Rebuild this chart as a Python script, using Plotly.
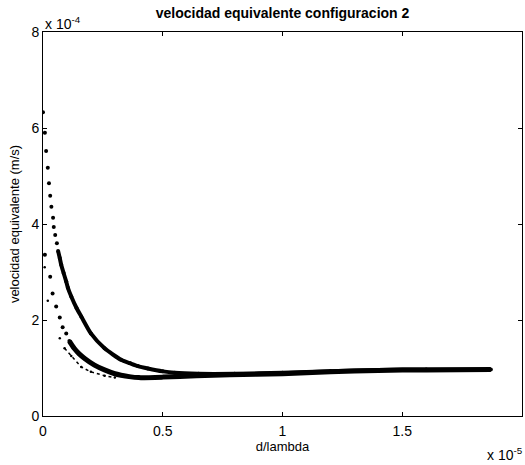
import plotly.graph_objects as go

# Values in units of 1e-5 (d/lambda) and 1e-4 m/s (velocidad)
upper_x = [0.000, 0.008, 0.013, 0.020, 0.025, 0.030, 0.035, 0.042, 0.045, 0.051,
           0.058, 0.063, 0.070, 0.076, 0.086, 0.097, 0.104, 0.118, 0.140, 0.160,
           0.200, 0.257, 0.326, 0.363, 0.396, 0.438, 0.50, 0.55, 0.65, 0.80,
           1.00, 1.20, 1.40, 1.60, 1.86]
upper_y = [6.33, 5.90, 5.52, 5.17, 4.85, 4.59, 4.36, 4.13, 3.94, 3.77,
           3.60, 3.44, 3.29, 3.15, 2.98, 2.80, 2.67, 2.49, 2.25, 2.07,
           1.72, 1.41, 1.17, 1.10, 1.04, 0.99, 0.93, 0.90, 0.88, 0.88,
           0.90, 0.93, 0.96, 0.97, 0.97]

lower_x = [0.008, 0.030, 0.040, 0.055, 0.070, 0.082, 0.097, 0.110, 0.130, 0.150,
           0.174, 0.215, 0.257, 0.300, 0.326, 0.360, 0.400, 0.50, 0.64, 0.78,
           1.00, 1.20, 1.40, 1.60, 1.87]
lower_y = [3.36, 2.90, 2.55, 2.28, 2.05, 1.85, 1.72, 1.56, 1.41, 1.30,
           1.20, 1.06, 0.96, 0.88, 0.85, 0.82, 0.80, 0.81, 0.84, 0.86,
           0.88, 0.92, 0.95, 0.96, 0.97]

third_x = [0.007, 0.020, 0.070, 0.090, 0.118, 0.160, 0.200, 0.257, 0.300]
third_y = [3.10, 2.40, 1.62, 1.41, 1.25, 1.02, 0.92, 0.84, 0.80]

x_ticks = [0, 0.5, 1, 1.5, 2]
x_tick_text = ["0", "0.5", "1", "1.5", "2"]
y_ticks = [0, 2, 4, 6, 8]
y_tick_text = ["0", "2", "4", "6", "8"]

UPPER_DENSE = 11   # index where points merge into a band
LOWER_DENSE = 7
THIRD_DENSE = 3

fig = go.Figure()

# sparse marker points
fig.add_trace(go.Scatter(x=upper_x, y=upper_y, mode="markers",
                         marker=dict(color="black", size=4, symbol="circle"),
                         showlegend=False))
fig.add_trace(go.Scatter(x=lower_x, y=lower_y, mode="markers",
                         marker=dict(color="black", size=4, symbol="circle"),
                         showlegend=False))
fig.add_trace(go.Scatter(x=third_x, y=third_y, mode="markers",
                         marker=dict(color="black", size=2.5, symbol="circle"),
                         showlegend=False))
# dense bands
fig.add_trace(go.Scatter(x=third_x[THIRD_DENSE:], y=third_y[THIRD_DENSE:], mode="lines",
                         line=dict(color="black", width=1.5, dash="dot"),
                         showlegend=False))
fig.add_trace(go.Scatter(x=upper_x[UPPER_DENSE:], y=upper_y[UPPER_DENSE:], mode="lines",
                         line=dict(color="black", width=4, shape="spline", smoothing=0.6),
                         showlegend=False))
fig.add_trace(go.Scatter(x=lower_x[LOWER_DENSE:], y=lower_y[LOWER_DENSE:], mode="lines",
                         line=dict(color="black", width=5, shape="spline", smoothing=0.6),
                         showlegend=False))

font_family = "Liberation Sans, Arial, sans-serif"

axis_common = dict(showline=True, linecolor="black", linewidth=1, mirror="ticks",
                   ticks="inside", ticklen=4, tickcolor="black", showgrid=False,
                   zeroline=False, tickfont=dict(family=font_family, size=14, color="black"))

fig.update_layout(
    width=525, height=465,
    margin=dict(l=43, r=3, t=32, b=49),
    paper_bgcolor="white", plot_bgcolor="white",
    font=dict(family=font_family, color="black"),
    title=dict(text="<b>velocidad equivalente configuracion 2</b>",
               x=(43 + 522) / 2 / 525, xanchor="center",
               y=1 - 13 / 465, yanchor="middle",
               font=dict(family=font_family, size=14, color="black")),
    xaxis=dict(range=[0, 2], tickvals=x_ticks, ticktext=x_tick_text,
               ticklabelstandoff=2,
               title=dict(text="d/lambda", font=dict(family=font_family, size=13),
                          standoff=2),
               **axis_common),
    yaxis=dict(range=[0, 8], tickvals=y_ticks, ticktext=y_tick_text,
               title=dict(text="velocidad equivalente (m/s)",
                          font=dict(family=font_family, size=13), standoff=8),
               **axis_common),
    annotations=[
        dict(text="x 10<sup>-4</sup>", xref="paper", yref="paper", x=0, y=1,
             xanchor="left", yanchor="bottom", showarrow=False, yshift=-2,
             font=dict(family=font_family, size=14, color="black")),
        dict(text="x 10<sup>-5</sup>", xref="paper", yref="paper", x=1, y=0,
             xanchor="right", yanchor="top", showarrow=False, yshift=-27, xshift=3,
             font=dict(family=font_family, size=14, color="black")),
    ],
)

fig.write_html("out.html")
